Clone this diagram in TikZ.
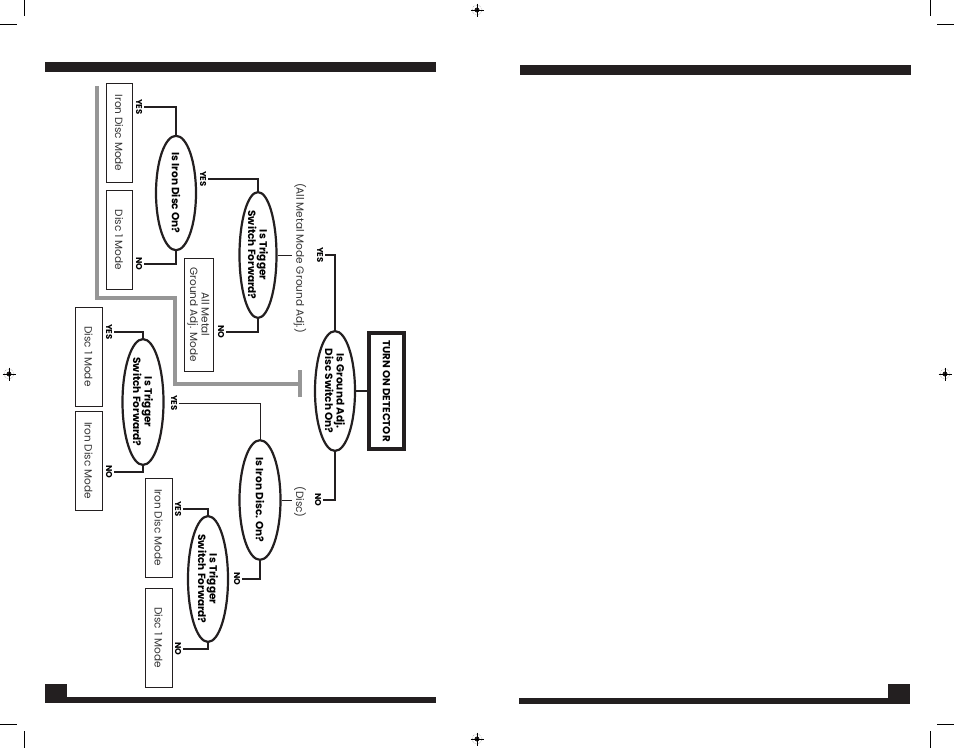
\documentclass[tikz,border=0pt]{standalone}
\usepackage{fontspec}
\setmainfont{Poppins}
\usepackage{tikz}
\usetikzlibrary{shapes.geometric}
\usetikzlibrary{positioning}

\definecolor{inkblack}{RGB}{35,31,32}
\definecolor{railgray}{RGB}{150,150,150}

\tikzset{
  question/.style={draw=inkblack, ellipse, line width=2.2pt, rotate=-90, inner sep=0pt,
    minimum width=115pt, minimum height=40pt, align=center,
    font=\bfseries\fontsize{10.5}{11.5}\selectfont},
  modebox/.style={draw=inkblack, line width=0.8pt, rotate=-90, minimum width=99pt,
    minimum height=27pt, inner sep=0pt, align=center,
    font=\fontsize{10.5}{11.5}\selectfont, text=black!80},
  answer/.style={rotate=-90, inner sep=2pt, font=\bfseries\fontsize{8.5}{9}\selectfont},
  remark/.style={rotate=-90, inner sep=2pt, font=\fontsize{10.5}{11.5}\selectfont, text=black!80},
  link/.style={draw=inkblack, line width=1.3pt},
  thinlink/.style={draw=inkblack, line width=0.7pt},
  rail/.style={line width=4pt, draw=railgray},
}

\begin{document}
\begin{tikzpicture}[x=1pt, y=-1pt]
\useasboundingbox (0,0) rectangle (954,748);

% page bars
\fill[inkblack] (45,62) rectangle (436,72);
\fill[inkblack] (520,65) rectangle (911,75);
\fill[inkblack] (45,697) rectangle (436,703);
\fill[inkblack] (45,684) rectangle (67,703);
\fill[inkblack] (519,698) rectangle (910,704);
\fill[inkblack] (888,684) rectangle (910,704);

% crop marks
\foreach \ax/\ay/\bx/\by in {24/0/24/16, 0/24/17/24, 930/0/930/16, 937/24/954/24,
    0/724/17/724, 24/731/24/748, 937/724/954/724, 930/731/930/748} {
   \path[draw, line width=0.6pt] (\ax,\ay) -- (\bx,\by);
}

% registration marks
\foreach \rx/\ry in {477/10, 9/374, 945/374, 477/739} {
   \path[draw, gray!70, densely dotted, line width=0.6pt] (\rx,\ry) circle (5pt);
   \fill[inkblack] (\rx,\ry) circle (2.5pt);
   \path[draw, line width=0.5pt] (\rx-6.5,\ry) -- (\rx+6.5,\ry) (\rx,\ry-6.5) -- (\rx,\ry+6.5);
}

% gray rail
\coordinate (railEnd) at (300,384);
\draw[rail] (97,86) |- (175,298) |- (railEnd);
\draw[rail] ([yshift=-13pt]railEnd) -- ([yshift=14pt]railEnd);

% start
\node [draw=inkblack, line width=3.5pt, rotate=-90, minimum width=116pt, minimum height=35pt,
  font=\bfseries\fontsize{10.3}{11}\selectfont] (detector) at (386.5,391) {TURN ON DETECTOR};
\node [question] (ground) at (335,391) {Is Ground Adj.\\Disc Switch On?};
\draw[link] (ground.north) -- (detector.south);

% ground adj. branch
\node [answer] (yesGA) at (320,255) {YES};
\node [remark] (amNote) at (300,258) {(All Metal Mode Ground Adj.)};
\node [question, minimum width=117pt, minimum height=37pt] (trigA) at (258,255) {Is Trigger\\Switch Forward?};
\node [answer] (yesTA) at (203,179) {YES};
\node [answer] (noTA) at (221,332) {NO};
\node [question, minimum width=97pt] (ironA) at (176,193) {Is Iron Disc On?};
\node [answer] (yesIA) at (139,107) {YES};
\node [answer] (noIA) at (139,264) {NO};
\node [modebox, minimum height=26pt] (ironModeA) at (119,133) {Iron Disc Mode};
\node [modebox, minimum height=26pt] (discModeA) at (119,240) {Disc 1 Mode};
\node [modebox, minimum width=113pt, minimum height=29pt] (allMetal) at (198.5,314.5) {All Metal\\Ground Adj. Mode};

\draw[link] (ground.west) |- (yesGA.north);
\draw[thinlink] (trigA.north) -- (trigA.north -| amNote.south);
\draw[link] (trigA.west) |- (yesTA.north);
\draw[link] (trigA.east) |- (noTA.north);
\draw[link] (ironA.west) |- (yesIA.north);
\draw[link] (ironA.east) |- (noIA.north);

% disc branch
\node [answer] (noGA) at (318,500) {NO};
\node [remark] (discNote) at (300,502) {(Disc)};
\node [question, minimum height=41pt] (ironB) at (260,500) {Is Iron Disc. On?};
\node [answer] (yesIB) at (174,403) {YES};
\node [answer] (noIB) at (237,579) {NO};
\node [question, minimum height=41pt] (trigB) at (143,402) {Is Trigger\\Switch Forward?};
\node [answer] (yesTB) at (109,332) {YES};
\node [answer] (noTB) at (109,472) {NO};
\node [modebox] (discModeB) at (88.5,356.5) {Disc 1 Mode};
\node [modebox] (ironModeB) at (88.5,460.5) {Iron Disc Mode};
\node [question, minimum width=116pt] (trigC) at (208,579) {Is Trigger\\Switch Forward?};
\node [answer] (yesTC) at (178,509) {YES};
\node [answer] (noTC) at (178,649) {NO};
\node [modebox] (ironModeC) at (158.5,527.5) {Iron Disc Mode};
\node [modebox] (discModeC) at (158.5,637.5) {Disc 1 Mode};

\draw[link] (ground.east) |- (noGA.north);
\draw[thinlink] (ironB.north) -- (ironB.north -| discNote.south);
\draw[thinlink] (ironB.west) |- (yesIB.north);
\draw[link] (ironB.east) |- (noIB.north);
\draw[link] (trigB.west) |- (yesTB.north);
\draw[link] (trigB.east) |- (noTB.north);
\draw[link] (trigC.west) |- (yesTC.north);
\draw[link] (trigC.east) |- (noTC.north);
\end{tikzpicture}
\end{document}
